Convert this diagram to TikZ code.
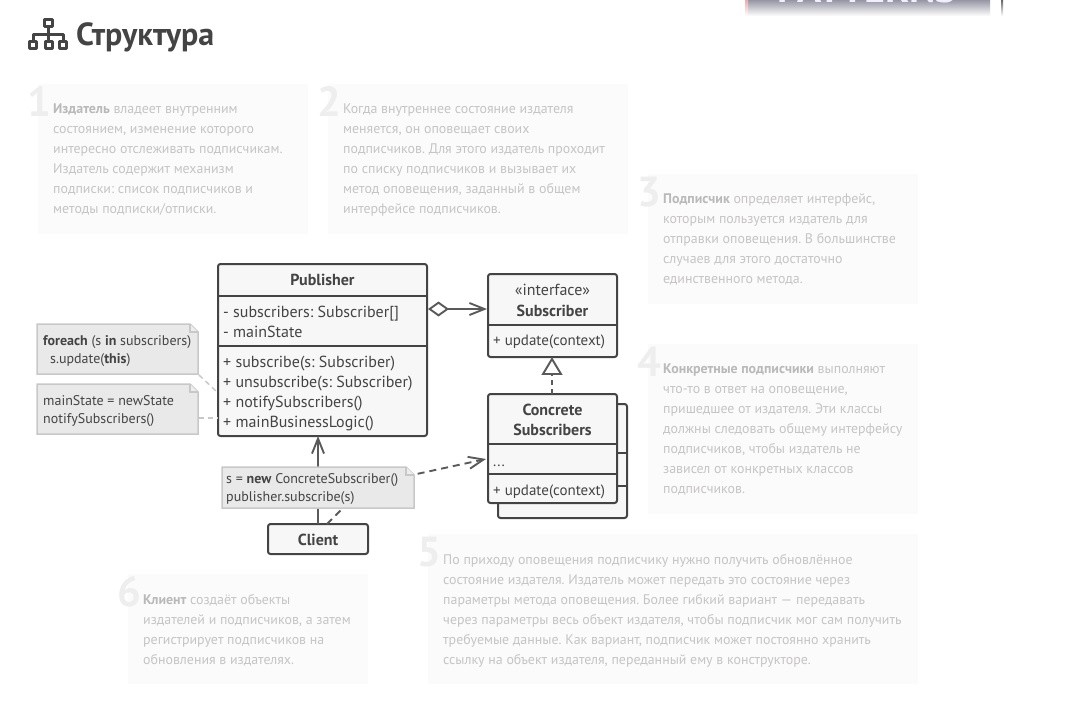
\documentclass[tikz,border=0pt]{standalone}
\usepackage{fontspec}
\setmainfont{PT Sans}
\usetikzlibrary{arrows.meta,positioning,calc}
\definecolor{umlline}{RGB}{68,68,68}
\definecolor{umlarrow}{RGB}{90,90,90}
\definecolor{umlfill}{RGB}{247,247,247}
\definecolor{notefill}{RGB}{233,233,233}
\definecolor{noteline}{RGB}{200,200,200}
\definecolor{hintfill}{RGB}{251,251,251}
\definecolor{hinttext}{RGB}{198,196,196}
\definecolor{hintbold}{RGB}{185,185,185}
\definecolor{hintnum}{RGB}{238,238,238}
\definecolor{stripgray}{RGB}{150,150,165}
\definecolor{striptext}{RGB}{240,238,255}
\definecolor{stripred}{RGB}{240,170,175}
\tikzset{
    umlbox/.style={draw=umlline, fill=umlfill, line width=2pt, rounded corners=2.5pt, outer sep=0pt},
    umlrule/.style={draw=umlline, line width=2pt},
    umltext/.style={font=\fontsize{16}{20}\selectfont, text=umlline, inner sep=0pt, text height=14pt, text depth=2pt},
    umlsmall/.style={umltext, font=\fontsize{15}{20}\selectfont},
    umlname/.style={font=\fontsize{16}{20}\selectfont\bfseries, text=umlline, inner sep=0pt, align=center},
    notebox/.style={draw=noteline, fill=notefill, line width=1.5pt},
    notetext/.style={font=\fontsize{14}{18}\selectfont, text=umlline, inner sep=0pt, anchor=west, align=left},
    hintbox/.style={fill=hintfill, anchor=north west, inner sep=0pt, outer sep=0pt},
    hinttxt/.style={text=hinttext, anchor=west, align=left, inner sep=0pt,
        font=\fontsize{13.9}{20}\selectfont, execute at begin node=\strut, execute at end node=\strut},
    hintnum/.style={font=\fontsize{42}{42}\selectfont\bfseries, text=hintnum, inner sep=0pt},
    assoc/.style={draw=umlarrow, line width=1.9pt},
    opentip/.tip={Straight Barb[length=15pt,width=12pt,line width=1.9pt]},
    notelink/.style={draw=noteline, line width=1.5pt, dash pattern=on 5pt off 4pt}
}
\newcommand{\hb}[1]{\textbf{\textcolor{hintbold}{#1}}}
\begin{document}
\frenchspacing
\begin{tikzpicture}[x=1pt, y=-1pt]
    \useasboundingbox (0,0) rectangle (1069,709);

    % Strip of the page header
    \fill[top color=stripgray, bottom color=white] (745,0) rectangle (990,16);
    \fill[top color=stripred, bottom color=white] (745,0) rectangle (748,16);
    \fill[top color=black!60, bottom color=white] (1001,0) rectangle (1003,16);
    \begin{scope}
        \clip (745,0) rectangle (990,16);
        \node[font=\fontsize{40}{40}\selectfont\bfseries, text=striptext, inner sep=0pt, anchor=base] (striplabel) at (867,3) {PATTERNS};
    \end{scope}

    % Title
    \node[font=\fontsize{32}{32}\selectfont\bfseries, text=umlline, anchor=west, inner sep=0pt] (title) at (76,37) {Структура};
    \begin{scope}[draw=umlline, line width=3pt, line join=round]
        \draw (44.5,19.5) rectangle (52.5,27);
        \draw (48.5,27) -- (48.5,40);
        \draw (33,41) -- (33,35) -- (63,35) -- (63,41);
        \draw (29.5,42) rectangle (36.5,48.5);
        \draw (45,42) rectangle (52,48.5);
        \draw (59.5,42) rectangle (66.5,48.5);
    \end{scope}

    % Hints
    \foreach \n/\x/\y/\w/\h/\body in {
        1/38/84/270/150/{\hb{Издатель} владеет внутренним\\состоянием, изменение которого\\интересно отслеживать подписчикам.\\Издатель содержит механизм\\подписки: список подписчиков и\\методы подписки/отписки.},
        2/328/84/300/150/{Когда внутреннее состояние издателя\\меняется, он оповещает своих\\подписчиков. Для этого издатель проходит\\по списку подписчиков и вызывает их\\метод оповещения, заданный в общем\\интерфейсе подписчиков.},
        3/648/174/270/130/{\hb{Подписчик} определяет интерфейс,\\которым пользуется издатель для\\отправки оповещения. В большинстве\\случаев для этого достаточно\\единственного метода.},
        4/648/344/270/170/{\hb{Конкретные подписчики} выполняют\\что-то в ответ на оповещение,\\пришедшее от издателя. Эти классы\\должны следовать общему интерфейсу\\подписчиков, чтобы издатель не\\зависел от конкретных классов\\подписчиков.},
        5/428/534/490/150/{По приходу оповещения подписчику нужно получить обновлённое\\состояние издателя. Издатель может передать это состояние через\\параметры метода оповещения. Более гибкий вариант — передавать\\через параметры весь объект издателя, чтобы подписчик мог сам получить\\требуемые данные. Как вариант, подписчик может постоянно хранить\\ссылку на объект издателя, переданный ему в конструкторе.},
        6/128/574/240/110/{\hb{Клиент} создаёт объекты\\издателей и подписчиков, а затем\\регистрирует подписчиков на\\обновления в издателях.}} {
        \node[hintbox, minimum width=\w pt, minimum height=\h pt] (hint\n) at (\x,\y) {};
        \node[hinttxt] (text\n) at ([xshift=15pt, yshift=-3pt]hint\n.west) {\body};
        \node[hintnum] (num\n) at (\x+1,\y+18) {\n};
    }

    % Publisher
    \node[umlbox, minimum width=209pt, minimum height=172pt, anchor=north west] (pub) at (218,264) {};
    \draw[umlrule] (218,296) -- (427,296) (218,346) -- (427,346);
    \node[umlname, anchor=base] (pubname) at (322.5,285.5) {Publisher};
    \foreach \i/\y/\label in {a/311/- subscribers: Subscriber[], b/331/- mainState, c/361/+ subscribe(s: Subscriber), d/381/+ unsubscribe(s: Subscriber), e/401/+ notifySubscribers(), f/421/+ mainBusinessLogic()} {
        \node[umltext, anchor=west] (pub\i) at (223,\y) {\label};
    }

    % Concrete subscribers
    \draw[umlbox] (498,404) rectangle (627,518);
    \draw[umlrule] (617,453) -- (627,453) (617,486) -- (627,486);
    \node[umlbox, minimum width=129pt, minimum height=109pt, anchor=north west] (conc) at (488,394) {};
    \draw[umlrule] (488,444) -- (617,444) (488,474) -- (617,474);
    \node[umlname] (concname) at (552.5,420) {Concrete\\Subscribers};
    \node[umlsmall, anchor=west] (concdots) at (493,460) {...};
    \node[umlsmall, anchor=west] (concup) at (493,489) {+ update(context)};

    % Subscriber
    \node[umlbox, minimum width=129pt, minimum height=83pt, anchor=north west] (sub) at (488,274) {};
    \draw[umlrule] (488,325) -- (617,325);
    \node[umltext] (subtag) at (552.5,289) {«interface»};
    \node[umlname, anchor=base] (subname) at (552.5,316) {Subscriber};
    \node[umlsmall, anchor=west] (subup) at (493,339.5) {+ update(context)};

    % Client
    \node[umlbox, minimum width=100pt, minimum height=30pt, anchor=north west] (client) at (268,524) {};
    \node[umlname, anchor=base] (clientname) at (318,545) {Client};

    % Connectors
    \coordinate (pubside) at (428,309);
    \coordinate (subside) at (487,309);
    \draw[assoc, {Diamond[length=21pt,width=15pt,fill=white,line width=1.9pt]}-opentip] (pubside) -- (subside);
    \coordinate (tribase) at (552,374);
    \coordinate (tritip) at (552,359);
    \draw[assoc, dash pattern=on 5pt off 4pt] (conc.north -| tribase) -- (tribase);
    \draw[assoc, fill=white, line join=miter] (tritip) -- (561,374) -- (543,374) -- cycle;
    \draw[assoc, -opentip] (client.north) -- (client.north |- pub.south);
    \coordinate (bend) at (366,485);
    \coordinate (clientfoot) at (327,524);
    \coordinate (concside) at (486,459);
    \draw[assoc, dash pattern=on 7pt off 5pt, -opentip] (clientfoot) -- (bend) -- (concside);

    % Notes
    \foreach \name/\x/\y/\w/\h in {foreachnote/37/324/161/50, statenote/37/384/161/50, clientnote/222/467/192/41} {
        \draw[notebox] (\x,\y) coordinate (\name nw) -- (\x+\w-8,\y) -- (\x+\w,\y+8) -- (\x+\w,\y+\h) coordinate (\name se) -- (\x,\y+\h) -- cycle;
        \draw[draw=noteline, line width=1.2pt, fill=white!70!noteline] (\x+\w-8,\y) -- (\x+\w-8,\y+8) -- (\x+\w,\y+8);
    }
    \node[notetext] (foreachtext) at (43,351) {\textbf{foreach} (s \textbf{in} subscribers)\\\hspace*{7pt}s.update(\textbf{this})};
    \node[notetext] (statetext) at (43,411) {mainState = newState\\notifySubscribers()};
    \node[notetext] (clienttext) at (226,489) {s = \textbf{new} ConcreteSubscriber()\\publisher.subscribe(s)};
    \draw[notelink] (foreachnotese) ++(1,1) coordinate (linka) -- (216,391);
    \draw[notelink] (statenotese) ++(1,-16) coordinate (linkb) -- (218,418);
\end{tikzpicture}
\end{document}
